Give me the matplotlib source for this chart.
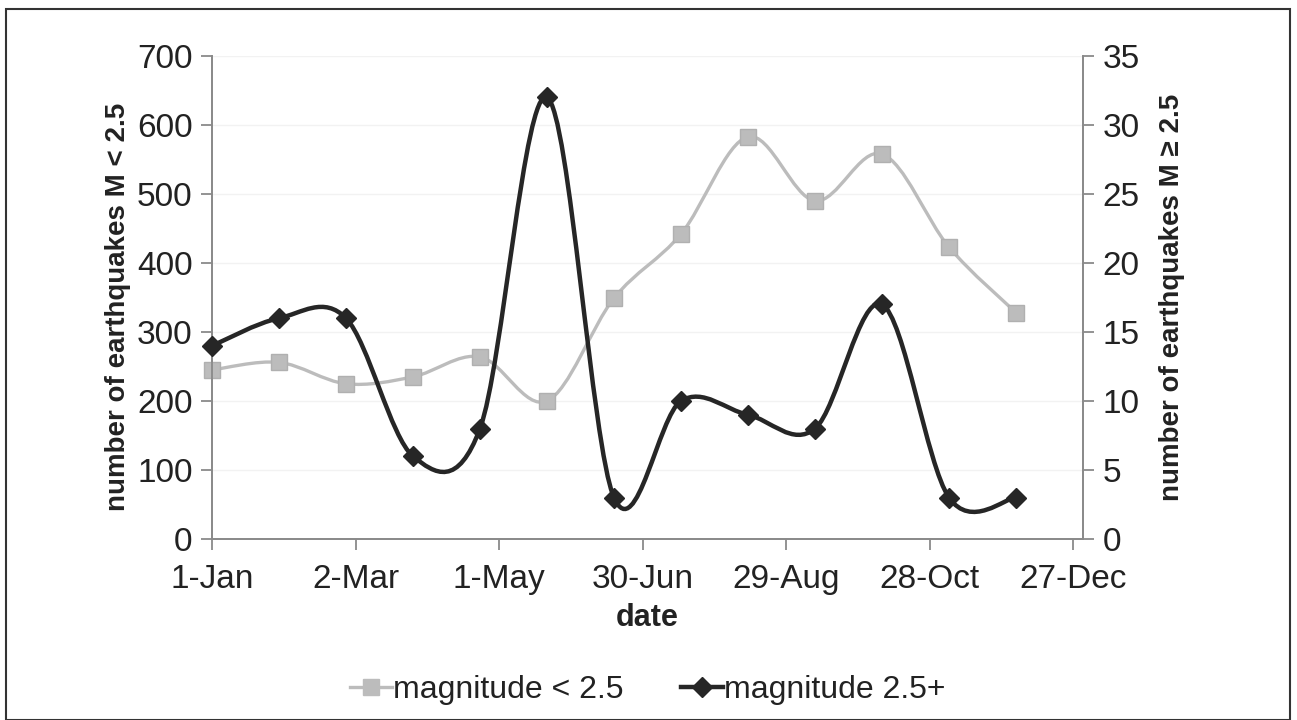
import numpy as np
import matplotlib
matplotlib.use("Agg")
import matplotlib.pyplot as plt
from matplotlib.path import Path
from matplotlib.patches import PathPatch, Rectangle
from matplotlib.lines import Line2D

plt.rcParams['font.family'] = ['Liberation Sans', 'DejaVu Sans']

# data: day of year (4-week periods)
days = [0, 28, 56, 84, 112, 140, 168, 196, 224, 252, 280, 308, 336]
small = [245, 256, 225, 235, 264, 200, 349, 442, 583, 490, 558, 423, 328]
large = [14, 16, 16, 6, 8, 32, 3, 10, 9, 8, 17, 3, 3]
xtick_pos = [0, 60, 120, 180, 240, 300, 360]
xtick_lab = ['1-Jan', '2-Mar', '1-May', '30-Jun', '29-Aug', '28-Oct', '27-Dec']

GRAY = '#bcbcbc'
BLACK = '#262626'
TXT = '#222222'
SP = '#8a8a8a'


def smooth_path(x, y):
    x = np.asarray(x, float); y = np.asarray(y, float)
    pts = np.column_stack([x, y])
    n = len(pts)
    verts = [pts[0]]
    codes = [Path.MOVETO]
    for i in range(n - 1):
        p0 = pts[i - 1] if i > 0 else pts[i]
        p1 = pts[i]
        p2 = pts[i + 1]
        p3 = pts[i + 2] if i + 2 < n else pts[i + 1]
        c1 = p1 + (p2 - p0) / 6.0
        c2 = p2 - (p3 - p1) / 6.0
        verts += [c1, c2, p2]
        codes += [Path.CURVE4] * 3
    return Path(verts, codes)


fig = plt.figure(figsize=(12.97, 7.2), dpi=100)
ax = fig.add_axes([212/1297, 1-539/720, (1083-212)/1297, (539-56)/720])
ax2 = ax.twinx()

ax.set_xlim(0, 364)
ax.set_ylim(0, 700)
ax2.set_ylim(0, 35)

ax.set_yticks(range(0, 701, 100))
ax2.set_yticks(range(0, 36, 5))
ax.set_xticks(xtick_pos)
ax.set_xticklabels(xtick_lab)

for a in (ax, ax2):
    for s in ('top',):
        a.spines[s].set_visible(False)
    for s in ('left', 'right', 'bottom'):
        a.spines[s].set_color(SP)
        a.spines[s].set_linewidth(1.3)
    a.tick_params(colors=SP, labelcolor=TXT, labelsize=24, length=8, width=1.3)
ax.tick_params(axis='x', pad=10)
ax.tick_params(axis='y', pad=6)
ax2.tick_params(axis='y', pad=6)

ax.yaxis.grid(True, color='#f2f2f2', linewidth=1)
ax.set_axisbelow(True)

# gray series (left axis)
ax.add_patch(PathPatch(smooth_path(days, small), facecolor='none', edgecolor=GRAY,
                       linewidth=2.4, zorder=2))
ax.plot(days, small, linestyle='none', marker='s', markersize=12, color=GRAY,
        markeredgecolor='#b0b0b0', zorder=3, clip_on=False)

# black series (right axis)
ax2.add_patch(PathPatch(smooth_path(days, large), facecolor='none', edgecolor=BLACK,
                        linewidth=3.2, zorder=2))
ax2.plot(days, large, linestyle='none', marker='D', markersize=10, color=BLACK,
         zorder=3, clip_on=False)

ax.set_ylabel('number of earthquakes M < 2.5', fontsize=20, fontweight='bold',
              color=TXT)
ax.yaxis.set_label_coords(-0.093, 0.48)
ax2.set_ylabel('number of earthquakes M ≥ 2.5', fontsize=20, fontweight='bold',
               color=TXT, labelpad=14)
ax.set_xlabel('date', fontsize=22, fontweight='bold', color=TXT, labelpad=6)

handles = [Line2D([], [], color=GRAY, linewidth=2.4, marker='s', markersize=12),
           Line2D([], [], color=BLACK, linewidth=3.2, marker='D', markersize=10)]
fig.legend(handles, ['magnitude < 2.5', 'magnitude 2.5+'], loc='center',
           bbox_to_anchor=(648/1297, 1-690/720), ncol=2, frameon=False,
           fontsize=23, handlelength=1.3, handletextpad=0.05, columnspacing=1.8,
           labelcolor=TXT)

fig.patches.append(Rectangle((6/1297, 0.0), 1284/1297, 1-9/720, transform=fig.transFigure,
                             fill=False, edgecolor='#333333', linewidth=1.5))

fig.savefig('out.png', dpi=100)
